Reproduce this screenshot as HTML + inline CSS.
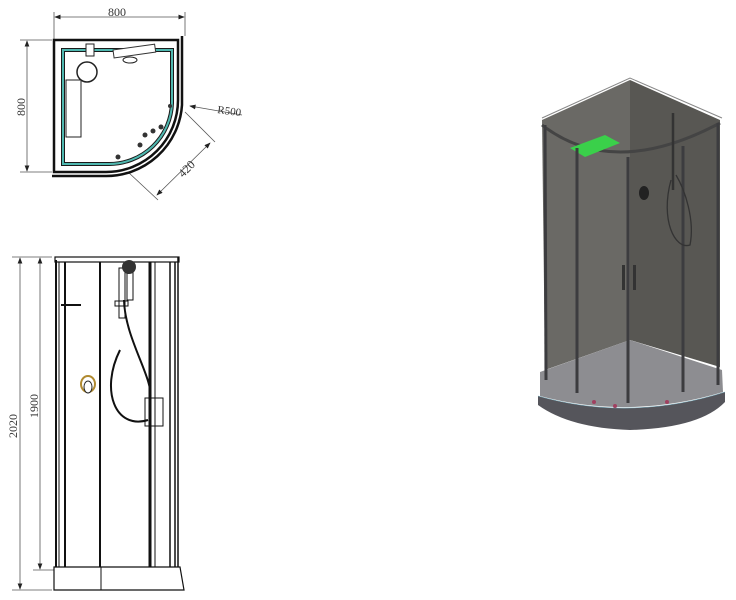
<!DOCTYPE html>
<html><head><meta charset="utf-8"><style>
html,body{margin:0;padding:0;background:#fff;width:736px;height:600px;overflow:hidden}
svg{display:block}
text{font-family:"Liberation Serif",serif;fill:#333}
</style></head><body>
<svg width="736" height="600" viewBox="0 0 736 600" xmlns="http://www.w3.org/2000/svg">
<defs>
<marker id="a" markerWidth="8" markerHeight="6" refX="7" refY="3" orient="auto"><path d="M0,0 L8,3 L0,6z" fill="#222"/></marker>
<marker id="b" markerWidth="8" markerHeight="6" refX="1" refY="3" orient="auto"><path d="M8,0 L0,3 L8,6z" fill="#222"/></marker>
</defs>
<!-- plan view -->
<g stroke="#555" stroke-width="0.8" fill="none">
<line x1="54" y1="12" x2="54" y2="42"/><line x1="185" y1="12" x2="185" y2="36"/>
<line x1="55" y1="17" x2="184" y2="17" marker-start="url(#b)" marker-end="url(#a)"/>
<line x1="20" y1="40" x2="52" y2="40"/><line x1="20" y1="172" x2="52" y2="172"/>
<line x1="27" y1="41" x2="27" y2="171" marker-start="url(#b)" marker-end="url(#a)"/>
<line x1="242" y1="115" x2="190" y2="106" marker-end="url(#a)"/>
<line x1="185" y1="112" x2="215" y2="142"/><line x1="128" y1="172" x2="158" y2="200"/>
<line x1="210" y1="143" x2="157" y2="195" marker-start="url(#b)" marker-end="url(#a)"/>
</g>
<text x="108" y="16" font-size="12">800</text>
<text x="0" y="0" font-size="12" transform="translate(25,116) rotate(-90)">800</text>
<text x="217" y="113" font-size="11" transform="rotate(8 217 113)">R500</text>
<text x="0" y="0" font-size="12" transform="translate(183,178) rotate(-45)">420</text>
<path d="M54,40 H178 V100 A72,72 0 0 1 106,172 H54 Z" fill="none" stroke="#111" stroke-width="2.5"/>
<path d="M182,36 V105 A76,76 0 0 1 104,176 H52" fill="none" stroke="#111" stroke-width="2.5"/>
<path d="M63,50 H172 V103 A63,63 0 0 1 109,164 H63 Z" fill="none" stroke="#1a1a1a" stroke-width="4"/>
<path d="M63,50 H172 V103 A63,63 0 0 1 109,164 H63 Z" fill="none" stroke="#4fb8b0" stroke-width="2"/>
<circle cx="87" cy="72" r="10" fill="#fff" stroke="#222" stroke-width="1.5"/>
<rect x="66" y="80" width="15" height="57" fill="#fff" stroke="#222"/>
<rect x="86" y="44" width="8" height="12" fill="#fff" stroke="#222"/>
<rect x="113" y="50" width="42" height="8" fill="#fff" stroke="#333" transform="rotate(-8 113 50)"/>
<ellipse cx="130" cy="60" rx="7" ry="3" fill="#fff" stroke="#222"/>
<g fill="#333"><circle cx="145" cy="135" r="2.5"/><circle cx="153" cy="131" r="2.5"/><circle cx="161" cy="127" r="2.5"/><circle cx="140" cy="145" r="2.5"/><circle cx="118" cy="157" r="2.5"/><circle cx="170" cy="106" r="2"/></g>
<!-- elevation -->
<g stroke="#555" stroke-width="0.8" fill="none">
<line x1="12" y1="257" x2="52" y2="257"/><line x1="12" y1="590" x2="52" y2="590"/>
<line x1="33" y1="570" x2="55" y2="570"/>
<line x1="20" y1="258" x2="20" y2="589" marker-start="url(#b)" marker-end="url(#a)"/>
<line x1="40" y1="258" x2="40" y2="569" marker-start="url(#b)" marker-end="url(#a)"/>
</g>
<text x="0" y="0" font-size="12" transform="translate(17,438) rotate(-90)">2020</text>
<text x="0" y="0" font-size="12" transform="translate(38,418) rotate(-90)">1900</text>
<rect x="55" y="257" width="124" height="5" fill="#fff" stroke="#111" stroke-width="1.2"/>
<g stroke="#111" fill="none">
<line x1="56" y1="260" x2="56" y2="570" stroke-width="2"/>
<line x1="59" y1="262" x2="59" y2="570" stroke-width="1"/>
<line x1="65" y1="262" x2="65" y2="570" stroke-width="2"/>
<line x1="100" y1="262" x2="100" y2="570" stroke-width="2"/>
<line x1="150" y1="262" x2="150" y2="570" stroke-width="3"/>
<line x1="155" y1="262" x2="155" y2="570" stroke-width="1"/>
<line x1="170" y1="262" x2="170" y2="570" stroke-width="1.5"/>
<line x1="175" y1="262" x2="175" y2="570" stroke-width="1.5"/>
<line x1="178" y1="257" x2="178" y2="570" stroke-width="1.5"/>
<line x1="61" y1="305" x2="81" y2="305" stroke-width="2"/>
<rect x="119" y="268" width="6" height="50"/>
<rect x="127" y="270" width="6" height="30"/>
<rect x="115" y="301" width="13" height="5"/>
<path d="M124,300 C 125,340 155,380 150,400 M120,350 C 100,390 115,430 148,420" stroke-width="2"/>
<rect x="145" y="398" width="18" height="28"/>
</g>
<circle cx="129" cy="267" r="7" fill="#333"/>
<ellipse cx="88" cy="384" rx="7" ry="8" fill="#fff" stroke="#b08a30" stroke-width="2"/>
<ellipse cx="88" cy="387" rx="4" ry="6" fill="#fff" stroke="#222"/>
<path d="M54,567 H180 L184,590 H54 Z" fill="#fff" stroke="#111" stroke-width="1.2"/>
<line x1="101" y1="567" x2="101" y2="590" stroke="#111"/>
<!-- 3D -->
<path d="M542,120 L630,80 L630,340 L545,370 Z" fill="#6a6965"/>
<path d="M630,80 L720,120 L720,367 L630,340 Z" fill="#585753"/>
<path d="M542,118 L630,78 L722,118" fill="none" stroke="#888" stroke-width="1"/>
<!-- tray -->
<path d="M540,372 L630,340 L722,370 L723,392 Q630,420 540,396 Z" fill="#8d8d91"/>
<path d="M538,396 Q630,422 725,392 L725,402 Q700,428 630,430 Q570,428 538,405 Z" fill="#55555b"/>
<path d="M538,396 Q630,422 725,392" fill="none" stroke="#7ab" stroke-width="0.6"/>
<path d="M542,125 Q613,180 720,123" fill="none" stroke="#444" stroke-width="3"/>
<path d="M570,148 L605,135 L620,143 L585,157 Z" fill="#3ad04a"/>
<g stroke="#3c3c3f" stroke-width="3"><line x1="545" y1="125" x2="546" y2="380"/><line x1="577" y1="148" x2="577" y2="393"/><line x1="628" y1="157" x2="628" y2="403"/><line x1="683" y1="146" x2="683" y2="392"/><line x1="718" y1="123" x2="718" y2="385"/></g>
<line x1="673" y1="113" x2="673" y2="190" stroke="#333" stroke-width="2.5"/>
<path d="M671,180 C660,220 675,250 690,245 C695,220 685,190 676,175" fill="none" stroke="#333" stroke-width="1.3"/>
<ellipse cx="644" cy="193" rx="5" ry="7" fill="#222"/>
<rect x="622" y="265" width="3" height="25" fill="#333"/><rect x="633" y="265" width="3" height="25" fill="#333"/>
<g fill="#a04060"><circle cx="594" cy="402" r="2"/><circle cx="615" cy="406" r="2"/><circle cx="667" cy="402" r="2"/></g>
</svg>
</body></html>
